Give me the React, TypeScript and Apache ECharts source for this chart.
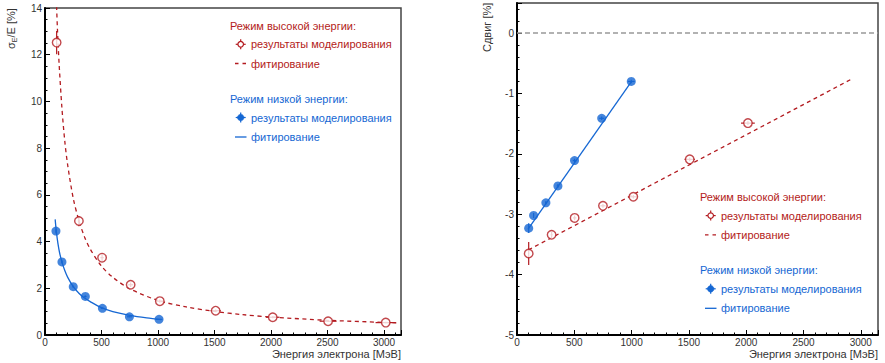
import React, { useEffect, useRef } from 'react';
import * as echarts from 'echarts';

const RED = '#b31b20';
const BLUE = '#1567d3';
const FONT = '"Liberation Sans", Arial, Helvetica, sans-serif';

// ---------- Left panel: energy resolution sigma_E/E [%] ----------
const highE = [103, 300, 505, 758, 1016, 1510, 2015, 2505, 3015];
const highRes = [12.52, 4.88, 3.31, 2.15, 1.45, 1.04, 0.76, 0.59, 0.53];
const highResErr = [0.5, 0.22, 0.15, 0.1, 0.07, 0.05, 0.04, 0.03, 0.03];
const highEErr = [3, 9, 15, 23, 30, 45, 60, 75, 90];
const highFitE = [100, 103, 110, 125, 150, 175, 200, 250, 300, 350, 400, 500, 600, 750, 1000, 1250, 1500, 1750, 2000, 2500, 3000, 3120];
const highFitRes = [14.4, 14.0, 13.1, 11.6, 9.7, 8.3, 7.3, 5.85, 4.9, 4.2, 3.68, 2.95, 2.47, 1.98, 1.48, 1.2, 1.01, 0.87, 0.77, 0.63, 0.54, 0.52];

const lowE = [97, 150, 250, 357, 508, 747, 1009];
const lowRes = [4.45, 3.13, 2.07, 1.65, 1.14, 0.78, 0.67];
const lowResErr = [0.1, 0.07, 0.05, 0.04, 0.03, 0.02, 0.02];
const lowEErr = [3, 5, 8, 11, 15, 22, 30];
const lowFitE = [90, 100, 115, 130, 150, 175, 200, 250, 300, 350, 400, 500, 600, 750, 900, 1030];
const lowFitRes = [4.95, 4.45, 3.9, 3.5, 3.12, 2.76, 2.48, 2.07, 1.79, 1.58, 1.43, 1.17, 1.0, 0.84, 0.73, 0.66];

// ---------- Right panel: shift [%] ----------
const highE2 = [102, 302, 503, 750, 1015, 1507, 2015];
const highShift = [-3.65, -3.34, -3.06, -2.86, -2.71, -2.09, -1.49];
const highShiftErr = [0.19, 0.05, 0.04, 0.03, 0.03, 0.03, 0.03];
const highEErr2 = [3, 9, 15, 23, 30, 45, 60];
const highFitE2 = [100, 2930];
const highFitShift = [-3.59, -0.75];

const lowE2 = [102, 145, 252, 357, 502, 739, 997];
const lowShift = [-3.23, -3.02, -2.81, -2.53, -2.11, -1.41, -0.8];
const lowShiftErr = [0.08, 0.04, 0.03, 0.03, 0.03, 0.03, 0.03];
const lowEErr2 = [3, 4, 8, 11, 15, 22, 30];
const lowFitE2 = [95, 1000];
const lowFitShift = [-3.25, -0.8];

// axis ranges / ticks
const xMin = 0, xMax = 3150, xMajor = 500, xMinor = 100;
const yLMin = 0, yLMax = 14, yLMajor = 2, yLMinor = 0.5;
const yRMin = -5, yRMax = 0.5, yRMajor = 1, yRMinor = 0.2;

// texts
const xTitle = 'Энергия электрона [МэВ]';
const rightYTitle = 'Сдвиг [%]';
const highTitle = 'Режим высокой энергии:';
const lowTitle = 'Режим низкой энергии:';
const simText = 'результаты моделирования';
const fitText = 'фитирование';

const pairs = (xs: number[], ys: number[]) => xs.map((x, i) => [x, ys[i]]);
const quads = (xs: number[], ys: number[], xe: number[], ye: number[]) =>
  xs.map((x, i) => [x, ys[i], xe[i], ye[i]]);

function errorBars(name: string, data: number[][], color: string, xAxisIndex: number, yAxisIndex: number) {
  return {
    name,
    type: 'custom',
    xAxisIndex,
    yAxisIndex,
    z: 3,
    clip: true,
    data,
    renderItem: (params: any, api: any) => {
      const x = api.value(0), y = api.value(1), xe = api.value(2), ye = api.value(3);
      const c = api.coord([x, y]);
      const l = api.coord([x - xe, y]);
      const r = api.coord([x + xe, y]);
      const t = api.coord([x, y + ye]);
      const b = api.coord([x, y - ye]);
      const style = { stroke: color, lineWidth: 1.2 };
      return {
        type: 'group',
        children: [
          { type: 'line', shape: { x1: l[0], y1: c[1], x2: r[0], y2: c[1] }, style },
          { type: 'line', shape: { x1: c[0], y1: t[1], x2: c[0], y2: b[1] }, style },
        ],
      };
    },
  };
}

function axisPair(kind: 'x' | 'y', gridIndex: number, min: number, max: number, major: number, minor: number) {
  const common = {
    gridIndex,
    type: 'value',
    min,
    max,
    position: kind === 'x' ? 'bottom' : 'left',
    splitLine: { show: false },
  };
  const main = {
    ...common,
    interval: major,
    axisLine: { show: true, onZero: false, lineStyle: { color: '#000', width: 2 } },
    axisTick: { show: true, inside: true, length: 5, lineStyle: { color: '#000', width: 1 } },
    axisLabel: {
      show: true,
      color: '#333',
      fontSize: 10,
      fontFamily: FONT,
      margin: kind === 'x' ? 2 : 3,
      formatter: (v: number) => {
        const k = v / major;
        return Math.abs(k - Math.round(k)) < 1e-6 ? String(Math.round(v)) : '';
      },
    },
  };
  const sub = {
    ...common,
    interval: minor,
    axisLine: { show: false, onZero: false },
    axisTick: { show: true, inside: true, length: 2.5, lineStyle: { color: '#000', width: 1 } },
    axisLabel: { show: false },
  };
  return [main, sub];
}

function legend(x0: number, y0: number) {
  const els: any[] = [];
  const txt = (text: string, x: number, y: number, color: string) => ({
    type: 'text',
    x,
    y,
    style: { text, fill: color, fontSize: 11, fontFamily: FONT, align: 'left', verticalAlign: 'middle' },
  });
  const mx = x0 + 10.7;
  const tx = x0 + 21;
  els.push(txt(highTitle, x0, y0, RED));
  const m1 = y0 + 18.3;
  els.push({ type: 'line', shape: { x1: mx - 5, y1: m1, x2: mx + 5, y2: m1 }, style: { stroke: RED, lineWidth: 1.2 } });
  els.push({ type: 'line', shape: { x1: mx, y1: m1 - 5, x2: mx, y2: m1 + 5 }, style: { stroke: RED, lineWidth: 1.2 } });
  els.push({ type: 'circle', shape: { cx: mx, cy: m1, r: 2.8 }, style: { fill: '#fff', stroke: RED, lineWidth: 1.2 } });
  els.push(txt(simText, tx, m1, RED));
  const f1 = y0 + 37.5;
  els.push({ type: 'line', shape: { x1: x0 + 5, y1: f1, x2: x0 + 16.5, y2: f1 }, style: { stroke: RED, lineWidth: 1.3, lineDash: [3.5, 4] } });
  els.push(txt(fitText, tx, f1, RED));
  const y1 = y0 + 73;
  els.push(txt(lowTitle, x0, y1, BLUE));
  const m2 = y1 + 18.5;
  els.push({ type: 'line', shape: { x1: mx - 5, y1: m2, x2: mx + 5, y2: m2 }, style: { stroke: BLUE, lineWidth: 1.2 } });
  els.push({ type: 'line', shape: { x1: mx, y1: m2 - 5, x2: mx, y2: m2 + 5 }, style: { stroke: BLUE, lineWidth: 1.2 } });
  els.push({ type: 'circle', shape: { cx: mx, cy: m2, r: 3.3 }, style: { fill: BLUE, stroke: BLUE, lineWidth: 0.5 } });
  els.push(txt(simText, tx, m2, BLUE));
  const f2 = y1 + 38;
  els.push({ type: 'line', shape: { x1: x0 + 5, y1: f2, x2: x0 + 16.5, y2: f2 }, style: { stroke: BLUE, lineWidth: 1.3 } });
  els.push(txt(fitText, tx, f2, BLUE));
  return els;
}

export default function App() {
  const ref = useRef<HTMLDivElement>(null);
  useEffect(() => {
    if (!ref.current) return;
    const chart = echarts.init(ref.current, undefined, { renderer: 'svg' });
    const [xL, xLm] = axisPair('x', 0, xMin, xMax, xMajor, xMinor);
    const [xR, xRm] = axisPair('x', 1, xMin, xMax, xMajor, xMinor);
    const [yL, yLm] = axisPair('y', 0, yLMin, yLMax, yLMajor, yLMinor);
    const [yR, yRm] = axisPair('y', 1, yRMin, yRMax, yRMajor, yRMinor);

    const option: any = {
      animation: false,
      backgroundColor: '#fff',
      grid: [
        { left: 45, top: 8, width: 356, height: 327, show: true, borderColor: '#444', borderWidth: 1.5, backgroundColor: 'transparent' },
        { left: 517, top: 3, width: 361, height: 332, show: true, borderColor: '#444', borderWidth: 1.5, backgroundColor: 'transparent' },
      ],
      xAxis: [xL, xLm, xR, xRm],
      yAxis: [yL, yLm, yR, yRm],
      series: [
        {
          name: 'highFit', type: 'line', xAxisIndex: 0, yAxisIndex: 0, data: pairs(highFitE, highFitRes),
          showSymbol: false, smooth: 0.3, clip: true, z: 2,
          lineStyle: { color: RED, width: 1.3, type: [4, 3.5] },
        },
        {
          name: 'lowFit', type: 'line', xAxisIndex: 0, yAxisIndex: 0, data: pairs(lowFitE, lowFitRes),
          showSymbol: false, smooth: 0.3, clip: true, z: 2,
          lineStyle: { color: BLUE, width: 1.3 },
        },
        errorBars('highErr', quads(highE, highRes, highEErr, highResErr), RED, 0, 0),
        errorBars('lowErr', quads(lowE, lowRes, lowEErr, lowResErr), BLUE, 0, 0),
        {
          name: 'high', type: 'scatter', xAxisIndex: 0, yAxisIndex: 0, data: pairs(highE, highRes),
          symbol: 'circle', symbolSize: 8.5, z: 4,
          itemStyle: { color: '#fff', borderColor: RED, borderWidth: 1.4 },
        },
        {
          name: 'low', type: 'scatter', xAxisIndex: 0, yAxisIndex: 0, data: pairs(lowE, lowRes),
          symbol: 'circle', symbolSize: 9, z: 4,
          itemStyle: { color: BLUE },
        },
        {
          name: 'highFit2', type: 'line', xAxisIndex: 2, yAxisIndex: 2, data: pairs(highFitE2, highFitShift),
          showSymbol: false, clip: true, z: 2,
          lineStyle: { color: RED, width: 1.3, type: [4, 3.5] },
          markLine: {
            silent: true, symbol: 'none', label: { show: false },
            lineStyle: { color: '#999', width: 1.5, type: [5, 3] },
            data: [{ yAxis: 0 }],
          },
        },
        {
          name: 'lowFit2', type: 'line', xAxisIndex: 2, yAxisIndex: 2, data: pairs(lowFitE2, lowFitShift),
          showSymbol: false, clip: true, z: 2,
          lineStyle: { color: BLUE, width: 1.3 },
        },
        errorBars('highErr2', quads(highE2, highShift, highEErr2, highShiftErr), RED, 2, 2),
        errorBars('lowErr2', quads(lowE2, lowShift, lowEErr2, lowShiftErr), BLUE, 2, 2),
        {
          name: 'high2', type: 'scatter', xAxisIndex: 2, yAxisIndex: 2, data: pairs(highE2, highShift),
          symbol: 'circle', symbolSize: 8.5, z: 4,
          itemStyle: { color: '#fff', borderColor: RED, borderWidth: 1.4 },
        },
        {
          name: 'low2', type: 'scatter', xAxisIndex: 2, yAxisIndex: 2, data: pairs(lowE2, lowShift),
          symbol: 'circle', symbolSize: 9, z: 4,
          itemStyle: { color: BLUE },
        },
      ],
      graphic: [
        {
          type: 'text', x: 401, y: 354,
          style: { text: xTitle, fill: '#333', fontSize: 11, fontFamily: FONT, align: 'right', verticalAlign: 'middle' },
        },
        {
          type: 'text', x: 878, y: 354,
          style: { text: xTitle, fill: '#333', fontSize: 11, fontFamily: FONT, align: 'right', verticalAlign: 'middle' },
        },
        {
          type: 'text', x: 11, y: 49, rotation: Math.PI / 2,
          style: {
            text: '{a|σ}{b|E}{a|/E [%]}',
            fill: '#333', fontFamily: FONT, align: 'left', verticalAlign: 'middle',
            rich: {
              a: { fontSize: 11, fontFamily: FONT, fill: '#333', lineHeight: 14, verticalAlign: 'middle' },
              b: { fontSize: 7, fontFamily: FONT, fill: '#333', lineHeight: 14, verticalAlign: 'bottom' },
            },
          },
        },
        {
          type: 'text', x: 487, y: 52, rotation: Math.PI / 2,
          style: { text: rightYTitle, fill: '#333', fontSize: 11, fontFamily: FONT, align: 'left', verticalAlign: 'middle' },
        },
        ...legend(230, 26),
        ...legend(700, 197.3),
      ],
    };
    chart.setOption(option);
    return () => chart.dispose();
  }, []);
  return (
    <div
      ref={ref}
      style={{ position: 'fixed', left: 0, top: 0, width: 885, height: 363, background: '#fff' }}
    />
  );
}
